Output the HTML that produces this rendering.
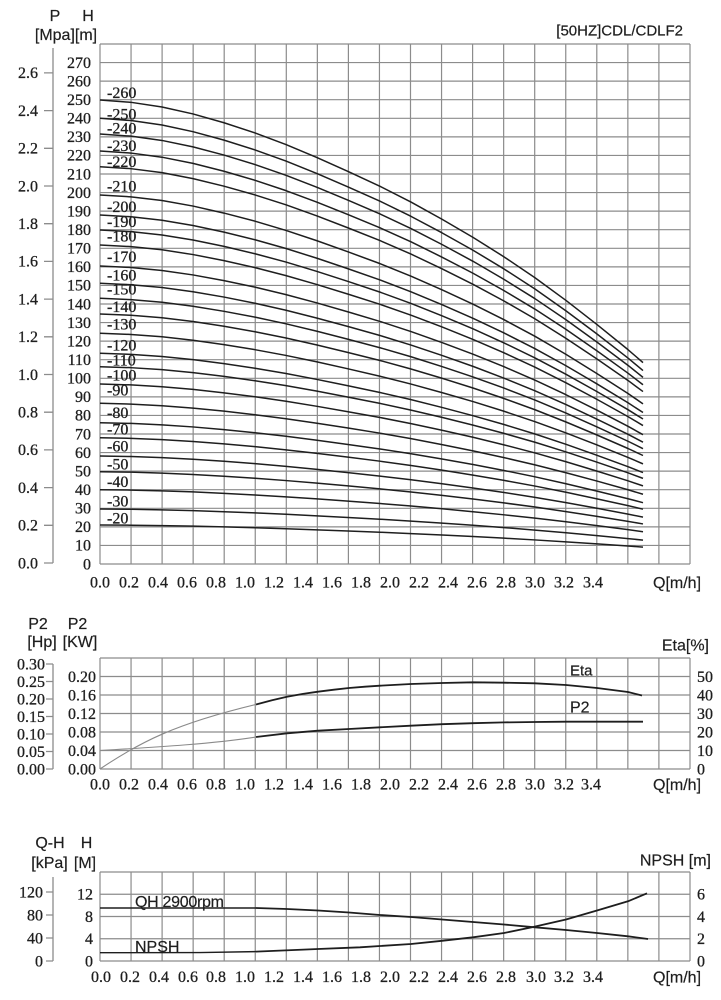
<!DOCTYPE html>
<html><head><meta charset="utf-8"><style>
html,body{margin:0;padding:0;background:#fff;}
svg{display:block;}
.n{font-family:"Liberation Serif",serif;font-size:16px;fill:#1e1e1e;stroke:#1e1e1e;stroke-width:0.3;}
.cl{font-family:"Liberation Serif",serif;font-size:16px;fill:#1e1e1e;stroke:#1e1e1e;stroke-width:0.3;}
.s{font-family:"Liberation Sans",sans-serif;font-size:15px;fill:#1e1e1e;stroke:#1e1e1e;stroke-width:0.2;}
.g{stroke:#8c8c8c;stroke-width:1.2;fill:none;}
.ax{stroke:#8c8c8c;stroke-width:1.3;fill:none;}
.c{fill:none;stroke:#1e1e1e;stroke-width:1.5;vector-effect:non-scaling-stroke;stroke-linejoin:round;}
.k{fill:none;stroke:#1e1e1e;stroke-width:1.8;stroke-linejoin:round;}
.gr{fill:none;stroke:#8a8a8a;stroke-width:1.1;}
</style></head><body>
<svg width="721" height="1000" viewBox="0 0 721 1000" xmlns="http://www.w3.org/2000/svg">
<defs>
<path id="gc" d="M100,-1000L131,-995L162,-985L193,-970L224,-951L255,-929L286,-904L317,-876L348,-846L380,-814L411,-780L442,-743L473,-704L504,-662L535,-617L566,-568L597,-516L628,-462L643,-434"/>
</defs>
<rect width="721" height="1000" fill="#fff"/>

<!-- ================= TOP CHART ================= -->
<text class="s" x="55" y="21" text-anchor="middle" style="font-size:16px">P</text>
<text class="s" x="88" y="21" text-anchor="middle" style="font-size:16px">H</text>
<text class="s" x="66" y="40" text-anchor="middle" style="font-size:16px">[Mpa][m]</text>
<text class="s" x="683" y="35.5" text-anchor="end">[50HZ]CDL/CDLF2</text>

<path class="g" d="M100,44V564M131.05,44V564M162.1,44V564M193.15,44V564M224.2,44V564M255.25,44V564M286.3,44V564M317.35,44V564M348.4,44V564M379.45,44V564M410.5,44V564M441.55,44V564M472.6,44V564M503.65,44V564M534.7,44V564M565.75,44V564M596.8,44V564M627.85,44V564M658.9,44V564M690,44V564"/>
<path class="g" d="M100,44H690M100,62.57H690M100,81.14H690M100,99.71H690M100,118.29H690M100,136.86H690M100,155.43H690M100,174H690M100,192.57H690M100,211.14H690M100,229.71H690M100,248.29H690M100,266.86H690M100,285.43H690M100,304H690M100,322.57H690M100,341.14H690M100,359.71H690M100,378.29H690M100,396.86H690M100,415.43H690M100,434H690M100,452.57H690M100,471.14H690M100,489.71H690M100,508.29H690M100,526.86H690M100,545.43H690M100,564H690"/>

<!-- P axis -->
<path class="ax" d="M53,48V563M44,72.9H53M44,110.6H53M44,148.3H53M44,186H53M44,223.7H53M44,261.4H53M44,299.1H53M44,336.8H53M44,374.5H53M44,412.2H53M44,449.9H53M44,487.6H53M44,525.3H53M44,563H53"/>
<g class="n" text-anchor="end">
<text x="38" y="78.2">2.6</text><text x="38" y="115.9">2.4</text><text x="38" y="153.6">2.2</text><text x="38" y="191.3">2.0</text><text x="38" y="229">1.8</text><text x="38" y="266.7">1.6</text><text x="38" y="304.4">1.4</text><text x="38" y="342.1">1.2</text><text x="38" y="379.8">1.0</text><text x="38" y="417.5">0.8</text><text x="38" y="455.2">0.6</text><text x="38" y="492.9">0.4</text><text x="38" y="530.6">0.2</text><text x="38" y="568.3">0.0</text>
</g>
<!-- H axis -->
<g class="n" text-anchor="end">
<text x="91" y="67.9">270</text><text x="91" y="86.5">260</text><text x="91" y="105">250</text><text x="91" y="123.6">240</text><text x="91" y="142.2">230</text><text x="91" y="160.7">220</text><text x="91" y="179.3">210</text><text x="91" y="197.9">200</text><text x="91" y="216.5">190</text><text x="91" y="235">180</text><text x="91" y="253.6">170</text><text x="91" y="272.2">160</text><text x="91" y="290.7">150</text><text x="91" y="309.3">140</text><text x="91" y="327.9">130</text><text x="91" y="346.5">120</text><text x="91" y="365">110</text><text x="91" y="383.6">100</text><text x="91" y="402.2">90</text><text x="91" y="420.7">80</text><text x="91" y="439.3">70</text><text x="91" y="457.9">60</text><text x="91" y="476.4">50</text><text x="91" y="495">40</text><text x="91" y="513.6">30</text><text x="91" y="532.2">20</text><text x="91" y="550.7">10</text><text x="91" y="569.3">0</text>
</g>

<!-- curves -->
<g>
<path class="c" transform="translate(0,564) scale(1,0.464)" d="M100,-1000L131,-995L162,-985L193,-970L224,-951L255,-929L286,-904L317,-876L348,-846L380,-814L411,-780L442,-743L473,-704L504,-662L535,-617L566,-568L597,-516L628,-462L643,-434"/>
<path class="c" transform="translate(0,564) scale(1,0.4457)" d="M100,-1000L131,-995L162,-985L193,-970L224,-951L255,-929L286,-904L317,-876L348,-846L380,-814L411,-780L442,-743L473,-704L504,-662L535,-617L566,-568L597,-516L628,-462L643,-434"/>
<path class="c" transform="translate(0,564) scale(1,0.430)" d="M100,-1000L131,-995L162,-985L193,-970L224,-951L255,-929L286,-904L317,-876L348,-846L380,-814L411,-780L442,-743L473,-704L504,-662L535,-617L566,-568L597,-516L628,-462L643,-434"/>
<path class="c" transform="translate(0,564) scale(1,0.413)" d="M100,-1000L131,-995L162,-985L193,-970L224,-951L255,-929L286,-904L317,-876L348,-846L380,-814L411,-780L442,-743L473,-704L504,-662L535,-617L566,-568L597,-516L628,-462L643,-434"/>
<path class="c" transform="translate(0,564) scale(1,0.3973)" d="M100,-1000L131,-995L162,-985L193,-970L224,-951L255,-929L286,-904L317,-876L348,-846L380,-814L411,-780L442,-743L473,-704L504,-662L535,-617L566,-568L597,-516L628,-462L643,-434"/>
<path class="c" transform="translate(0,564) scale(1,0.369)" d="M100,-1000L131,-995L162,-985L193,-970L224,-951L255,-929L286,-904L317,-876L348,-846L380,-814L411,-780L442,-743L473,-704L504,-662L535,-617L566,-568L597,-516L628,-462L643,-434"/>
<path class="c" transform="translate(0,564) scale(1,0.349)" d="M100,-1000L131,-995L162,-985L193,-970L224,-951L255,-929L286,-904L317,-876L348,-846L380,-814L411,-780L442,-743L473,-704L504,-662L535,-617L566,-568L597,-516L628,-462L643,-434"/>
<path class="c" transform="translate(0,564) scale(1,0.334)" d="M100,-1000L131,-995L162,-985L193,-970L224,-951L255,-929L286,-904L317,-876L348,-846L380,-814L411,-780L442,-743L473,-704L504,-662L535,-617L566,-568L597,-516L628,-462L643,-434"/>
<path class="c" transform="translate(0,564) scale(1,0.319)" d="M100,-1000L131,-995L162,-985L193,-970L224,-951L255,-929L286,-904L317,-876L348,-846L380,-814L411,-780L442,-743L473,-704L504,-662L535,-617L566,-568L597,-516L628,-462L643,-434"/>
<path class="c" transform="translate(0,564) scale(1,0.298)" d="M100,-1000L131,-995L162,-985L193,-970L224,-951L255,-929L286,-904L317,-876L348,-846L380,-814L411,-780L442,-743L473,-704L504,-662L535,-617L566,-568L597,-516L628,-462L643,-434"/>
<path class="c" transform="translate(0,564) scale(1,0.2807)" d="M100,-1000L131,-995L162,-985L193,-970L224,-951L255,-929L286,-904L317,-876L348,-846L380,-814L411,-780L442,-743L473,-704L504,-662L535,-617L566,-568L597,-516L628,-462L643,-434"/>
<path class="c" transform="translate(0,564) scale(1,0.2657)" d="M100,-1000L131,-995L162,-985L193,-970L224,-951L255,-929L286,-904L317,-876L348,-846L380,-814L411,-780L442,-743L473,-704L504,-662L535,-617L566,-568L597,-516L628,-462L643,-434"/>
<path class="c" transform="translate(0,564) scale(1,0.250)" d="M100,-1000L131,-995L162,-985L193,-970L224,-951L255,-929L286,-904L317,-876L348,-846L380,-814L411,-780L442,-743L473,-704L504,-662L535,-617L566,-568L597,-516L628,-462L643,-434"/>
<path class="c" transform="translate(0,564) scale(1,0.2307)" d="M100,-1000L131,-995L162,-985L193,-970L224,-951L255,-929L286,-904L317,-876L348,-846L380,-814L411,-780L442,-743L473,-704L504,-662L535,-617L566,-568L597,-516L628,-462L643,-434"/>
<path class="c" transform="translate(0,564) scale(1,0.2107)" d="M100,-1000L131,-995L162,-985L193,-970L224,-951L255,-929L286,-904L317,-876L348,-846L380,-814L411,-780L442,-743L473,-704L504,-662L535,-617L566,-568L597,-516L628,-462L643,-434"/>
<path class="c" transform="translate(0,564) scale(1,0.1973)" d="M100,-1000L131,-995L162,-985L193,-970L224,-951L255,-929L286,-904L317,-876L348,-846L380,-814L411,-780L442,-743L473,-704L504,-662L535,-617L566,-568L597,-516L628,-462L643,-434"/>
<path class="c" transform="translate(0,564) scale(1,0.180)" d="M100,-1000L131,-995L162,-985L193,-970L224,-951L255,-929L286,-904L317,-876L348,-846L380,-814L411,-780L442,-743L473,-704L504,-662L535,-617L566,-568L597,-516L628,-462L643,-434"/>
<path class="c" transform="translate(0,564) scale(1,0.1607)" d="M100,-1000L131,-995L162,-985L193,-970L224,-951L255,-929L286,-904L317,-876L348,-846L380,-814L411,-780L442,-743L473,-704L504,-662L535,-617L566,-568L597,-516L628,-462L643,-434"/>
<path class="c" transform="translate(0,564) scale(1,0.1413)" d="M100,-1000L131,-995L162,-985L193,-970L224,-951L255,-929L286,-904L317,-876L348,-846L380,-814L411,-780L442,-743L473,-704L504,-662L535,-617L566,-568L597,-516L628,-462L643,-434"/>
<path class="c" transform="translate(0,564) scale(1,0.1263)" d="M100,-1000L131,-995L162,-985L193,-970L224,-951L255,-929L286,-904L317,-876L348,-846L380,-814L411,-780L442,-743L473,-704L504,-662L535,-617L566,-568L597,-516L628,-462L643,-434"/>
<path class="c" transform="translate(0,564) scale(1,0.108)" d="M100,-1000L131,-995L162,-985L193,-970L224,-951L255,-929L286,-904L317,-876L348,-846L380,-814L411,-780L442,-743L473,-704L504,-662L535,-617L566,-568L597,-516L628,-462L643,-434"/>
<path class="c" transform="translate(0,564) scale(1,0.0923)" d="M100,-1000L131,-995L162,-985L193,-970L224,-951L255,-929L286,-904L317,-876L348,-846L380,-814L411,-780L442,-743L473,-704L504,-662L535,-617L566,-568L597,-516L628,-462L643,-434"/>
<path class="c" transform="translate(0,564) scale(1,0.0743)" d="M100,-1000L131,-995L162,-985L193,-970L224,-951L255,-929L286,-904L317,-876L348,-846L380,-814L411,-780L442,-743L473,-704L504,-662L535,-617L566,-568L597,-516L628,-462L643,-434"/>
<path class="c" transform="translate(0,564) scale(1,0.055)" d="M100,-1000L131,-995L162,-985L193,-970L224,-951L255,-929L286,-904L317,-876L348,-846L380,-814L411,-780L442,-743L473,-704L504,-662L535,-617L566,-568L597,-516L628,-462L643,-434"/>
<path class="c" transform="translate(0,564) scale(1,0.039)" d="M100,-1000L131,-995L162,-985L193,-970L224,-951L255,-929L286,-904L317,-876L348,-846L380,-814L411,-780L442,-743L473,-704L504,-662L535,-617L566,-568L597,-516L628,-462L643,-434"/>
</g>

<!-- curve labels -->
<g class="cl">
<text x="107" y="98">-260</text><text x="107" y="119.6">-250</text><text x="107" y="133.6">-240</text><text x="107" y="151">-230</text><text x="107" y="167">-220</text><text x="107" y="191.3">-210</text><text x="107" y="212">-200</text><text x="107" y="227">-190</text><text x="107" y="241.3">-180</text><text x="107" y="262">-170</text><text x="107" y="280.3">-160</text><text x="107" y="294.3">-150</text><text x="107" y="312">-140</text><text x="107" y="329.3">-130</text><text x="107" y="350.3">-120</text><text x="107" y="365.3">-110</text><text x="107" y="380.3">-100</text><text x="107" y="395.3">-90</text><text x="107" y="418">-80</text><text x="107" y="434.6">-70</text><text x="107" y="451.3">-60</text><text x="107" y="469.3">-50</text><text x="107" y="487">-40</text><text x="107" y="506.3">-30</text><text x="107" y="523.6">-20</text>
</g>

<!-- top x labels -->
<g class="n" text-anchor="middle">
<text x="100" y="587.5">0.0</text><text x="129" y="587.5">0.2</text><text x="158" y="587.5">0.4</text><text x="187" y="587.5">0.6</text><text x="216" y="587.5">0.8</text><text x="245" y="587.5">1.0</text><text x="274" y="587.5">1.2</text><text x="303" y="587.5">1.4</text><text x="332" y="587.5">1.6</text><text x="361" y="587.5">1.8</text><text x="390" y="587.5">2.0</text><text x="419" y="587.5">2.2</text><text x="448" y="587.5">2.4</text><text x="477" y="587.5">2.6</text><text x="506" y="587.5">2.8</text><text x="535" y="587.5">3.0</text><text x="564" y="587.5">3.2</text><text x="593" y="587.5">3.4</text>
</g>
<text class="s" x="653" y="588" style="font-size:16px">Q[m/h]</text>

<!-- ================= MIDDLE CHART ================= -->
<text class="s" x="38" y="629" text-anchor="middle" style="font-size:16px">P2</text>
<text class="s" x="77.5" y="629" text-anchor="middle" style="font-size:16px">P2</text>
<text class="s" x="42" y="647" text-anchor="middle" style="font-size:16px">[Hp]</text>
<text class="s" x="80" y="647" text-anchor="middle" style="font-size:16px">[KW]</text>
<text class="s" x="709" y="650.5" text-anchor="end" style="font-size:16px">Eta[%]</text>

<path class="g" d="M100,658V769M131.05,658V769M162.1,658V769M193.15,658V769M224.2,658V769M255.25,658V769M286.3,658V769M317.35,658V769M348.4,658V769M379.45,658V769M410.5,658V769M441.55,658V769M472.6,658V769M503.65,658V769M534.7,658V769M565.75,658V769M596.8,658V769M627.85,658V769M658.9,658V769M690,658V769"/>
<path class="g" d="M100,658H690M100,676.5H690M100,695H690M100,713.5H690M100,732H690M100,750.5H690M100,769H690"/>

<path class="ax" d="M53,664V769M46,664H53M46,681.5H53M46,699H53M46,716.5H53M46,734H53M46,751.5H53M46,769H53"/>
<g class="n" text-anchor="end">
<text x="45" y="669.3">0.30</text><text x="45" y="686.8">0.25</text><text x="45" y="704.3">0.20</text><text x="45" y="721.8">0.15</text><text x="45" y="739.3">0.10</text><text x="45" y="756.8">0.05</text><text x="45" y="774.3">0.00</text>
<text x="96" y="681.8">0.20</text><text x="96" y="700.3">0.16</text><text x="96" y="718.8">0.12</text><text x="96" y="737.3">0.08</text><text x="96" y="755.8">0.04</text><text x="96" y="774.3">0.00</text>
</g>
<g class="n">
<text x="697" y="681.8">50</text><text x="697" y="700.3">40</text><text x="697" y="718.8">30</text><text x="697" y="737.3">20</text><text x="697" y="755.8">10</text><text x="697" y="774.3">0</text>
</g>

<!-- eta / p2 curves -->
<path class="gr" d="M100,769C140,742 175,724 256,704.5"/>
<path class="gr" d="M100,750.5C160,747 215,743.5 256,737"/>
<polyline class="k" points="256,704.5 272,700.2 287,696.7 303,693.9 318,691.7 334,689.7 349,688 365,686.7 380,685.7 411,684 442,683 473,682.3 504,682.7 535,683.3 566,685 597,688 628,692 642,695.5"/>
<polyline class="k" points="256,737 287,733.3 318,730.7 349,729 380,727.3 411,725.7 442,724.2 473,723.2 504,722.4 535,722 566,721.7 597,721.7 628,721.7 643,721.7"/>
<text class="s" x="570" y="675.5">Eta</text>
<text class="s" x="570" y="712.5" style="font-size:16px">P2</text>

<g class="n" text-anchor="middle">
<text x="100" y="789.5">0.0</text><text x="129" y="789.5">0.2</text><text x="158" y="789.5">0.4</text><text x="187" y="789.5">0.6</text><text x="216" y="789.5">0.8</text><text x="245" y="789.5">1.0</text><text x="274" y="789.5">1.2</text><text x="303" y="789.5">1.4</text><text x="332" y="789.5">1.6</text><text x="361" y="789.5">1.8</text><text x="390" y="789.5">2.0</text><text x="419" y="789.5">2.2</text><text x="448" y="789.5">2.4</text><text x="477" y="789.5">2.6</text><text x="506" y="789.5">2.8</text><text x="535" y="789.5">3.0</text><text x="564" y="789.5">3.2</text><text x="591" y="789.5">3.4</text>
</g>
<text class="s" x="653" y="790" style="font-size:16px">Q[m/h]</text>

<!-- ================= BOTTOM CHART ================= -->
<text class="s" x="50" y="848" text-anchor="middle" style="font-size:16px">Q-H</text>
<text class="s" x="86.5" y="848" text-anchor="middle" style="font-size:16px">H</text>
<text class="s" x="49.5" y="868" text-anchor="middle" style="font-size:16px">[kPa]</text>
<text class="s" x="85" y="868" text-anchor="middle" style="font-size:16px">[M]</text>
<text class="s" x="711" y="865.5" text-anchor="end" style="font-size:16px">NPSH [m]</text>

<path class="g" d="M100,872V961M131.05,872V961M162.1,872V961M193.15,872V961M224.2,872V961M255.25,872V961M286.3,872V961M317.35,872V961M348.4,872V961M379.45,872V961M410.5,872V961M441.55,872V961M472.6,872V961M503.65,872V961M534.7,872V961M565.75,872V961M596.8,872V961M627.85,872V961M658.9,872V961M690,872V961"/>
<path class="g" d="M100,872H690M100,894.25H690M100,916.5H690M100,938.75H690M100,961H690"/>

<path class="ax" d="M53,877V961M46,892H53M46,915H53M46,938H53M46,961H53"/>
<g class="n" text-anchor="end">
<text x="43" y="897.3">120</text><text x="43" y="920.3">80</text><text x="43" y="943.3">40</text><text x="43" y="966.3">0</text>
<text x="93" y="899.5">12</text><text x="93" y="921.8">8</text><text x="93" y="944">4</text><text x="93" y="966.3">0</text>
</g>
<g class="n">
<text x="697" y="899.5">6</text><text x="697" y="921.8">4</text><text x="697" y="944">2</text><text x="697" y="966.3">0</text>
</g>

<polyline class="k" style="stroke-width:1.4" points="100,908 256,908"/>
<polyline class="k" points="256,908 287,909 318,910.5 349,912.5 380,915 411,917 442,919.5 473,922 504,924.5 535,927.3 566,930 597,933 628,936.3 648,939"/>
<polyline class="k" style="stroke-width:1.4" points="100,952.7 200,952.6 256,951.6"/>
<polyline class="k" points="256,951.6 318,949 360,947.3 411,944 442,940.8 473,937.3 504,933 532,927.3 566,919.5 597,910.5 628,901.3 647,893.3"/>
<text class="s" x="135" y="907" style="font-size:16px;letter-spacing:-0.3px">QH 2900rpm</text>
<text class="s" x="135" y="952" style="font-size:16px">NPSH</text>

<g class="n" text-anchor="middle">
<text x="101" y="982">0.0</text><text x="130" y="982">0.2</text><text x="159" y="982">0.4</text><text x="188" y="982">0.6</text><text x="216" y="982">0.8</text><text x="245" y="982">1.0</text><text x="274" y="982">1.2</text><text x="303" y="982">1.4</text><text x="332" y="982">1.6</text><text x="361" y="982">1.8</text><text x="390" y="982">2.0</text><text x="419" y="982">2.2</text><text x="448" y="982">2.4</text><text x="477" y="982">2.6</text><text x="506" y="982">2.8</text><text x="536" y="982">3.0</text><text x="564" y="982">3.2</text><text x="593" y="982">3.4</text>
</g>
<text class="s" x="653" y="982.5" style="font-size:16px">Q[m/h]</text>
</svg>
</body></html>
